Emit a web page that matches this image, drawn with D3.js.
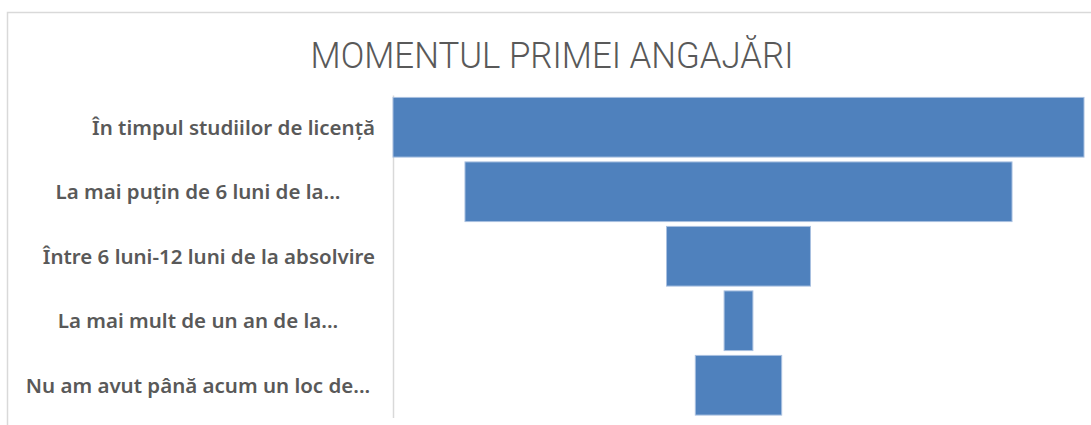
<!DOCTYPE html>
<html>
<head>
<meta charset="utf-8">
<script src="https://cdn.jsdelivr.net/npm/d3@7"></script>
<style>
    body { margin: 0; background: #ffffff; }
    svg { display: block; }
</style>
</head>
<body>
<div id="chart"></div>
<script>
var svgWidth = 1091;
var svgHeight = 425;

// data
var chartTitle = "MOMENTUL PRIMEI ANGAJĂRI";
var categories = [
    "În timpul studiilor de licență",
    "La mai puțin de 6 luni de la...",
    "Între 6 luni-12 luni de la absolvire",
    "La mai mult de un an de la...",
    "Nu am avut până acum un loc de..."
];
var values = [48, 38, 10, 2, 6];

var margin =
{
    top: 95,
    left: 393,
    plotWidth: 691,
    plotHeight: 322.5
};

var svg = d3
    .select("#chart")
    .append("svg")
    .attr("width", svgWidth)
    .attr("height", svgHeight);

// chart area border (only top and left edges fall inside the picture)
svg.append("rect")
    .attr("x", 7.5)
    .attr("y", 12.5)
    .attr("width", 1200)
    .attr("height", 600)
    .attr("fill", "#ffffff")
    .attr("stroke", "#d9d9d9")
    .attr("stroke-width", 1.5);

svg.append("text")
    .attr("x", 552)
    .attr("y", 68)
    .attr("text-anchor", "middle")
    .attr("fill", "#595959")
    .style("font-family", "Roboto, sans-serif")
    .style("font-weight", 300)
    .style("font-size", "36px")
    .attr("textLength", 483)
    .attr("lengthAdjust", "spacingAndGlyphs")
    .text(chartTitle);

var chartGroup = svg.append("g")
    .attr("transform", `translate(${margin.left}, ${margin.top})`);

var yBandScale = d3.scaleBand()
    .domain(categories)
    .range([0, margin.plotHeight])
    .paddingInner(0.075)
    .paddingOuter(0.0375);

var xLinearScale = d3.scaleLinear()
    .domain([0, d3.max(values)])
    .range([0, margin.plotWidth]);

var centerX = margin.plotWidth / 2;

var leftAxis = d3.axisLeft(yBandScale)
    .tickSize(0)
    .tickPadding(18);

var yAxis = chartGroup.append("g")
    .call(leftAxis);

yAxis.select(".domain")
    .attr("stroke", "#d9d9d9")
    .attr("stroke-width", 1.5);

// Excel centres truncated labels in their box, full ones sit against the axis
yAxis.selectAll(".tick text")
    .attr("fill", "#595959")
    .attr("dy", "0.36em")
    .style("font-family", "'Noto Sans', sans-serif")
    .style("font-weight", 600)
    .style("font-size", "20.5px")
    .each(function (d) 
    {
        if (d.endsWith("...")) 
        {
            d3.select(this)
                .attr("text-anchor", "middle")
                .attr("x", -195);
        }
    });

chartGroup.selectAll("rect.bar")
    .data(values)
    .enter()
    .append("rect")
    .classed("bar", true)
    .attr("x", d => centerX - xLinearScale(d) / 2)
    .attr("y", (d, i) => yBandScale(categories[i]))
    .attr("width", d => xLinearScale(d))
    .attr("height", yBandScale.bandwidth())
    .attr("fill", "#4f81bd")
    .attr("stroke", "#a9c0e0")
    .attr("stroke-width", 1);
</script>
</body>
</html>
